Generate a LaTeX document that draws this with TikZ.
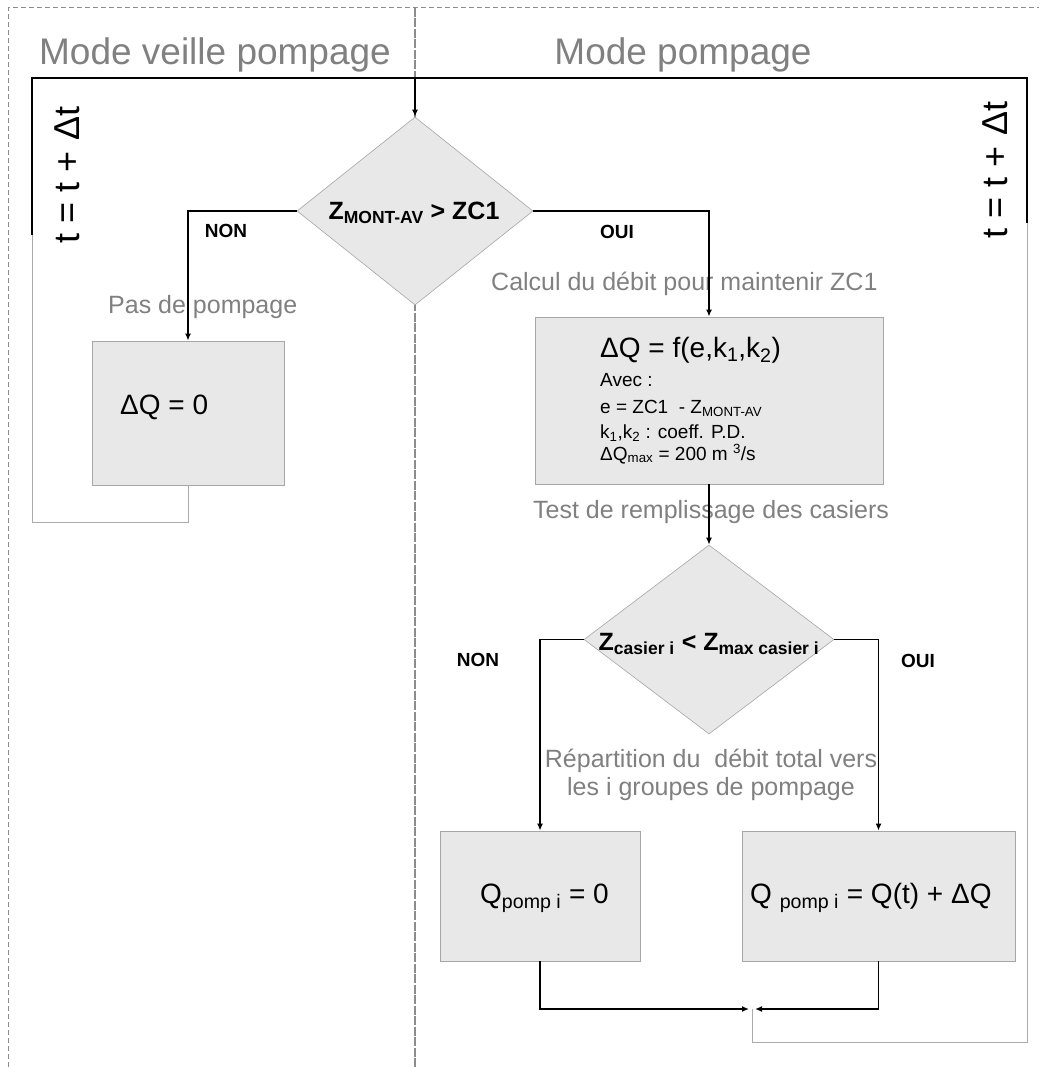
\documentclass[tikz,border=0pt]{standalone}
\usepackage{fontspec}
\setmainfont{Liberation Sans}
\usetikzlibrary{shapes.geometric,arrows.meta}
\definecolor{boxfill}{HTML}{E8E8E8}
\definecolor{boxline}{HTML}{A6A6A6}
\definecolor{txtgray}{HTML}{808080}
\definecolor{retgray}{HTML}{ABABAB}
\definecolor{dashgray}{HTML}{8C8C8C}
\newcommand{\setfs}[1]{\fontsize{#1}{#1}\selectfont}
\begin{document}
\begin{tikzpicture}[x=1pt,y=1pt,
  box/.style={draw=boxline, fill=boxfill, line width=0.8pt, inner sep=0pt},
  dia/.style={diamond, draw=boxline, fill=boxfill, line width=0.6pt, inner sep=0pt},
  conn/.style={line width=1.5pt, black},
  arr/.style={conn, -{Latex[length=7pt,width=6pt]}},
  ret/.style={line width=1pt, retgray},
  note/.style={text=txtgray, font=\setfs{25}, inner sep=0pt},
  yesno/.style={font=\setfs{19}\bfseries, inner sep=0pt},
  title/.style={text=txtgray, font=\setfs{37}, inner sep=0pt},
  incr/.style={rotate=90, font=\setfs{36}, inner sep=0pt},
  big/.style={font=\setfs{28}, inner sep=0pt},
  small/.style={font=\setfs{19}, inner sep=0pt},
  dtext/.style={font=\setfs{25}\bfseries, inner sep=0pt},
  frame/.style={dashgray, line width=1pt, dash pattern=on 5pt off 3pt}]

\useasboundingbox (0,0) rectangle (1039,-1067);

% dashed frame and separator
\draw[frame] (8,-1067) -- (8,-8) -- (1039,-8);
\draw[dashgray, line width=1.3pt, dash pattern=on 9pt off 1.5pt] (415,-8) -- (415,-1067);

% titles
\node[title, anchor=base] (t1) at (215,-65) {Mode veille pompage};
\node[title, anchor=base] (t2) at (683,-65) {Mode pompage};

% rotated increments
\node[incr] (inc1) at (67,-175) {t = t + Δt};
\node[incr] (inc2) at (995,-170) {t = t + Δt};

% decision 1
\node[dia, minimum width=236pt, minimum height=188pt] (d1) at (415,-211) {};
\node[dtext] (d1t) at (414,-213) {Z\textsubscript{MONT-AV} > ZC1};

% box 1
\node[box, minimum width=192pt, minimum height=144pt] (b1) at (188,-413) {};
\node[big, anchor=base west] (b1t) at (120,-414) {ΔQ = 0};

% box 2
\node[box, minimum width=348pt, minimum height=167pt] (b2) at (709,-400.5) {};
\node[big, anchor=base west] (b2a) at (600,-357) {ΔQ = f(e,k\textsubscript{1},k\textsubscript{2})};
\node[small, anchor=base west] (b2b) at (600,-386) {Avec :};
\node[small, anchor=base west] (b2c) at (600,-413) {e = ZC1 \ - Z\textsubscript{MONT-AV}};
\node[small, anchor=base west] (b2d) at (600,-438) {k\textsubscript{1},k\textsubscript{2} : coeff. P.D.};
\node[small, anchor=base west] (b2e) at (600,-460) {ΔQ\textsubscript{max} = 200 m \textsuperscript{3}/s};

% decision 2
\node[dia, minimum width=250pt, minimum height=189pt] (d2) at (709,-639.5) {};
\node[dtext] (d2t) at (709,-644) {Z\textsubscript{casier i} < Z\textsubscript{max casier i}};

% boxes 3 and 4
\node[box, minimum width=200pt, minimum height=130pt] (b3) at (540,-896) {};
\node[big, anchor=base west] (b3t) at (480,-903) {Q\textsubscript{pomp i} = 0};
\node[box, minimum width=273pt, minimum height=130pt] (b4) at (878.5,-896) {};
\node[big, anchor=base west] (b4t) at (750,-903) {Q \textsubscript{pomp i} = Q(t) + ΔQ};

% notes
\node[note, anchor=base west] (n1) at (108,-313) {Pas de pompage};
\node[note, anchor=base west] (n2) at (491,-290) {Calcul du débit pour maintenir ZC1};
\node[note, anchor=base west] (n3) at (533,-518) {Test de remplissage des casiers};
\node[note, anchor=base] (n4) at (711,-767) {Répartition du \ débit total vers};
\node[note, anchor=base] (n5) at (711,-795) {les i groupes de pompage};

% yes/no labels
\node[yesno] (no1) at (226,-231) {NON};
\node[yesno] (yes1) at (617,-232) {OUI};
\node[yesno] (no2) at (478,-660) {NON};
\node[yesno] (yes2) at (918,-661) {OUI};

% coordinates for the loops
\coordinate (lg) at (32,-235);
\coordinate (lt) at (32,-78);
\coordinate (rt) at (1027,-78);
\coordinate (rg) at (1027,-223);
\coordinate (lb) at (32,-522);
\coordinate (mg) at (752,-1009);
\coordinate (rb) at (1027,-1042);

% main loop (black)
\draw[conn] (lg) -- (lt) -- (rt) -- (rg);
\draw[arr] (d1.north |- lt) -- (d1.north);

% return paths (gray)
\draw[ret] (b1.south) |- (lb) -- (lg);
\draw[ret] (mg) |- (rb) -- (rg);

% decisions
\draw[arr] (d1.west) -| (b1.north);
\draw[arr] (d1.east) -| (b2.north);
\draw[arr] (b2.south) -- (d2.north);
\draw[arr] (d2.west) -| (b3.north);
\draw[arr] (d2.east) -| (b4.north);
\draw[arr, shorten >=3pt] (b3.south) |- (mg);
\draw[arr, shorten >=3pt] (b4.south) |- (mg);
\end{tikzpicture}
\end{document}
